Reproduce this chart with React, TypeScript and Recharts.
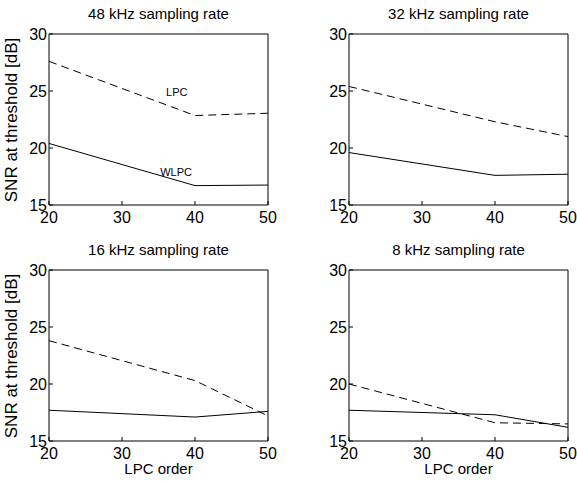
import { LineChart, Line, XAxis, YAxis, ReferenceDot } from "recharts";

// LPC orders where the curves were measured
const orders = [20, 40, 50];

// SNR at threshold [dB] per sampling rate
const lpc48 = [27.6, 22.85, 23.05];
const wlpc48 = [20.4, 16.7, 16.75];
const lpc32 = [25.4, 22.3, 21.0];
const wlpc32 = [19.6, 17.6, 17.7];
const lpc16 = [23.8, 20.3, 17.2];
const wlpc16 = [17.7, 17.1, 17.6];
const lpc8 = [20.0, 16.6, 16.5];
const wlpc8 = [17.7, 17.3, 16.2];

const xTicks = [20, 30, 40, 50];
const yTicks = [15, 20, 25, 30];

const W = 577;
const H = 483;
const PLOT_W = 219;
const PLOT_H = 171;
const Y_AXIS_W = 40;
const X_AXIS_H = 30;
const font = "'Liberation Sans', Arial, Helvetica, sans-serif";

type PanelProps = {
  title: string;
  lpc: number[];
  wlpc: number[];
  left: number;
  top: number;
  yLabel?: boolean;
  xLabel?: boolean;
  notes?: boolean;
};

function Panel({ title, lpc, wlpc, left, top, yLabel, xLabel, notes }: PanelProps) {
  const data = orders.map((o, i) => ({ order: o, lpc: lpc[i], wlpc: wlpc[i] }));
  const margin = {
    left: left - Y_AXIS_W,
    top: top - 2,
    right: W - left - PLOT_W - 2,
    bottom: H - top - PLOT_H - X_AXIS_H,
  };
  const tickStyle = { fill: "#000", fontSize: 16, fontFamily: font };
  const noteStyle = { position: "center" as const, fontSize: 11, fill: "#000", fontFamily: font };

  return (
    <>
      <div style={{ position: "absolute", left: 0, top: 0 }}>
        <LineChart width={W} height={H} data={data} margin={margin}>
          <XAxis
            dataKey="order"
            type="number"
            domain={[20, 50]}
            ticks={xTicks}
            stroke="#000"
            tick={tickStyle}
            tickSize={-4}
            tickMargin={11}
            height={X_AXIS_H}
            allowDataOverflow
          />
          <XAxis
            xAxisId="top"
            orientation="top"
            type="number"
            domain={[20, 50]}
            ticks={xTicks}
            stroke="#000"
            tick={false}
            tickSize={-4}
            height={2}
            allowDataOverflow
          />
          <YAxis
            type="number"
            domain={[15, 30]}
            ticks={yTicks}
            stroke="#000"
            tick={tickStyle}
            tickSize={-4}
            tickMargin={6}
            width={Y_AXIS_W}
            allowDataOverflow
          />
          <YAxis
            yAxisId="right"
            orientation="right"
            type="number"
            domain={[15, 30]}
            ticks={yTicks}
            stroke="#000"
            tick={false}
            tickSize={-4}
            width={2}
            allowDataOverflow
          />
          <Line
            dataKey="lpc"
            stroke="#000"
            strokeWidth={1}
            strokeDasharray="8 5"
            dot={false}
            isAnimationActive={false}
          />
          <Line
            dataKey="wlpc"
            stroke="#000"
            strokeWidth={1}
            dot={false}
            isAnimationActive={false}
          />
          {notes && (
            <ReferenceDot x={37.5} y={24.9} r={0} stroke="none" label={{ value: "LPC", ...noteStyle }} />
          )}
          {notes && (
            <ReferenceDot x={37.4} y={17.9} r={0} stroke="none" label={{ value: "WLPC", ...noteStyle }} />
          )}
        </LineChart>
      </div>
      <div
        style={{
          position: "absolute",
          left,
          top: top - 28,
          width: PLOT_W,
          textAlign: "center",
          fontSize: 15,
          lineHeight: "16px",
        }}
      >
        {title}
      </div>
      {yLabel && (
        <div
          style={{
            position: "absolute",
            left: 12 - 100,
            top: top + PLOT_H / 2 - 9,
            width: 200,
            textAlign: "center",
            fontSize: 17,
            lineHeight: "18px",
            transform: "rotate(-90deg)",
          }}
        >
          SNR at threshold [dB]
        </div>
      )}
      {xLabel && (
        <div
          style={{
            position: "absolute",
            left,
            top: top + PLOT_H + 20,
            width: PLOT_W,
            textAlign: "center",
            fontSize: 15,
            lineHeight: "16px",
          }}
        >
          LPC order
        </div>
      )}
    </>
  );
}

export default function App() {
  return (
    <div
      style={{
        position: "absolute",
        left: 0,
        top: 0,
        width: W,
        height: H,
        background: "#fff",
        fontFamily: font,
        color: "#000",
      }}
    >
      <Panel title="48 kHz sampling rate" lpc={lpc48} wlpc={wlpc48} left={49} top={34} yLabel notes />
      <Panel title="32 kHz sampling rate" lpc={lpc32} wlpc={wlpc32} left={349} top={34} />
      <Panel title="16 kHz sampling rate" lpc={lpc16} wlpc={wlpc16} left={49} top={270} yLabel xLabel />
      <Panel title="8 kHz sampling rate" lpc={lpc8} wlpc={wlpc8} left={349} top={270} xLabel />
    </div>
  );
}
